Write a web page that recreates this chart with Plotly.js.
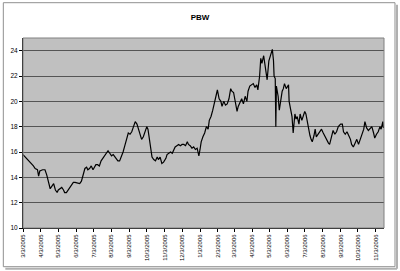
<!DOCTYPE html>
<html>
<head>
<meta charset="utf-8">
<script src="https://cdn.plot.ly/plotly-3.0.1.min.js"></script>
<style>html,body{margin:0;padding:0;background:#fff;}#chart{width:400px;height:271px;}</style>
</head>
<body>
<div id="chart"></div>
<script>
var dates = [
"2005-03-03","2005-03-07","2005-03-10","2005-03-14","2005-03-16","2005-03-21","2005-03-24","2005-03-28","2005-03-30","2005-04-01",
"2005-04-06","2005-04-10","2005-04-13","2005-04-16","2005-04-19","2005-04-22","2005-04-25","2005-04-28","2005-05-01",
"2005-05-03","2005-05-06","2005-05-09","2005-05-12","2005-05-14","2005-05-17","2005-05-20","2005-05-23","2005-05-26","2005-05-29","2005-06-01",
"2005-06-06","2005-06-09","2005-06-12","2005-06-15","2005-06-18","2005-06-21","2005-06-23","2005-06-26","2005-06-29","2005-07-02",
"2005-07-05","2005-07-07","2005-07-10","2005-07-13","2005-07-16","2005-07-19","2005-07-22","2005-07-25","2005-07-28","2005-07-31",
"2005-08-03","2005-08-06","2005-08-09","2005-08-12","2005-08-14","2005-08-17","2005-08-20","2005-08-23","2005-08-26","2005-08-29","2005-09-01",
"2005-09-04","2005-09-07","2005-09-10","2005-09-13","2005-09-16","2005-09-19","2005-09-21","2005-09-24","2005-09-27","2005-09-30",
"2005-10-03","2005-10-05","2005-10-08","2005-10-10","2005-10-12","2005-10-15","2005-10-18","2005-10-21","2005-10-23","2005-10-26","2005-10-29","2005-11-01",
"2005-11-05","2005-11-07","2005-11-10","2005-11-13","2005-11-16","2005-11-19","2005-11-21","2005-11-24","2005-11-27","2005-11-30",
"2005-12-03","2005-12-06","2005-12-09","2005-12-12","2005-12-14","2005-12-17","2005-12-20","2005-12-23","2005-12-26","2005-12-29","2006-01-01",
"2006-01-03","2006-01-05","2006-01-08","2006-01-11","2006-01-14","2006-01-17","2006-01-19","2006-01-22","2006-01-25","2006-01-28","2006-01-31","2006-02-02",
"2006-02-05","2006-02-08","2006-02-10","2006-02-13","2006-02-16","2006-02-19","2006-02-22","2006-02-25","2006-02-27","2006-03-02",
"2006-03-03","2006-03-06","2006-03-08","2006-03-10","2006-03-13","2006-03-16","2006-03-19","2006-03-22","2006-03-25","2006-03-27","2006-03-30",
"2006-04-03","2006-04-05","2006-04-08","2006-04-11","2006-04-13","2006-04-16","2006-04-18","2006-04-20","2006-04-23","2006-04-25","2006-04-27","2006-04-29","2006-05-02",
"2006-05-04","2006-05-06","2006-05-08","2006-05-10","2006-05-11","2006-05-13","2006-05-14","2006-05-15","2006-05-18","2006-05-20","2006-05-22","2006-05-25","2006-05-27","2006-05-29","2006-06-01",
"2006-06-05","2006-06-06","2006-06-09","2006-06-11","2006-06-13","2006-06-16","2006-06-18","2006-06-20","2006-06-23","2006-06-25","2006-06-28","2006-07-01",
"2006-07-03","2006-07-05","2006-07-07","2006-07-09","2006-07-12","2006-07-14","2006-07-16","2006-07-19","2006-07-21","2006-07-23","2006-07-26","2006-07-29","2006-08-01",
"2006-08-04","2006-08-07","2006-08-10","2006-08-13","2006-08-15","2006-08-18","2006-08-21","2006-08-24","2006-08-27","2006-08-30","2006-09-03",
"2006-09-06","2006-09-08","2006-09-11","2006-09-14","2006-09-17","2006-09-20","2006-09-22","2006-09-25","2006-09-28","2006-10-01",
"2006-10-04","2006-10-07","2006-10-10","2006-10-13","2006-10-15","2006-10-18","2006-10-21","2006-10-24","2006-10-27","2006-10-30","2006-11-01",
"2006-11-04","2006-11-07","2006-11-10","2006-11-12","2006-11-15","2006-11-16"
];
var prices = [
15.8,15.6,15.5,15.3,15.2,14.9,14.7,14.6,14.1,14.5,
14.6,14.6,14.2,13.6,13.1,13.3,13.5,13.0,12.8,
13.0,13.1,13.2,13.0,12.8,12.8,13.0,13.1,13.4,13.6,13.6,
13.5,13.5,13.7,14.3,14.7,14.8,14.6,14.7,14.9,14.6,
14.8,15.0,15.0,14.9,15.3,15.5,15.8,16.0,16.1,15.9,
15.7,15.8,15.6,15.5,15.3,15.3,15.6,16.0,16.5,17.0,17.5,
17.4,17.6,18.0,18.4,18.2,17.8,17.5,17.0,17.2,17.6,
18.0,17.8,17.0,16.2,15.6,15.4,15.3,15.6,15.4,15.6,15.1,15.2,
15.5,15.8,15.9,16.0,15.9,16.2,16.4,16.5,16.6,16.5,
16.6,16.6,16.5,16.8,16.6,16.5,16.3,16.4,16.2,16.3,15.7,
16.2,16.8,17.2,17.5,18.0,17.8,18.5,18.8,19.3,19.8,20.5,20.9,
20.2,20.0,19.6,20.0,19.7,19.8,20.2,21.0,20.8,20.7,
20.4,19.5,19.2,19.6,19.9,20.2,19.8,20.4,20.0,20.8,21.2,
21.3,21.4,21.1,21.3,20.9,22.0,23.4,23.0,23.6,22.8,22.4,21.7,23.2,
23.5,23.8,24.1,23.2,22.0,21.8,18.0,21.2,20.4,19.3,20.0,20.8,21.0,21.4,21.0,
21.3,20.0,19.2,18.8,17.5,19.0,18.6,18.8,18.2,19.0,18.5,19.0,
19.2,19.0,18.5,17.8,17.3,17.0,16.8,17.3,17.8,17.2,17.4,17.6,17.8,
17.5,17.2,16.9,16.7,16.6,17.3,17.7,17.4,17.6,18.0,18.2,
18.2,17.6,17.4,17.6,17.3,17.0,16.6,16.4,16.7,17.0,
16.6,17.0,17.3,17.8,18.4,17.9,17.7,17.9,18.0,17.5,17.1,
17.4,17.6,18.0,17.8,18.4,17.9
];
var tickDates = ["2005-03-03","2005-04-03","2005-05-03","2005-06-03","2005-07-03","2005-08-03","2005-09-03","2005-10-03","2005-11-03","2005-12-03","2006-01-03","2006-02-03","2006-03-03","2006-04-03","2006-05-03","2006-06-03","2006-07-03","2006-08-03","2006-09-03","2006-10-03","2006-11-03"];
var tickLabels = ["3/3/2005","4/3/2005","5/3/2005","6/3/2005","7/3/2005","8/3/2005","9/3/2005","10/3/2005","11/3/2005","12/3/2005","1/3/2006","2/3/2006","3/3/2006","4/3/2006","5/3/2006","6/3/2006","7/3/2006","8/3/2006","9/3/2006","10/3/2006","11/3/2006"];
var yTicks = [10,12,14,16,18,20,22,24];

var trace = {x: dates, y: prices, type: 'scatter', mode: 'lines', line: {color: '#000000', width: 1.2}, hoverinfo: 'skip'};

var L = 22.7, R = 384, T = 38.3, B = 228.3;
function px(x){return (x - L)/(R - L);}
function py(y){return (B - y)/(B - T);}

var layout = {
  width: 400, height: 271,
  margin: {l: 23, r: 16, t: 38, b: 43, pad: 0},
  paper_bgcolor: '#ffffff',
  plot_bgcolor: '#c0c0c0',
  showlegend: false,
  title: {text: '<b>PBW</b>', font: {family: 'Arial, Liberation Sans, sans-serif', size: 8, color: '#000'}, x: 0.5, xanchor: 'center', y: 0.935, yanchor: 'middle'},
  xaxis: {
    type: 'date', range: ['2005-03-03', '2006-11-17'],
    tickmode: 'array', tickvals: tickDates, ticktext: tickLabels,
    tickangle: -90, ticks: 'outside', ticklen: 3, tickcolor: '#000', tickwidth: 1,
    tickfont: {family: 'Arial, Liberation Sans, sans-serif', size: 6, color: '#000'},
    showgrid: false, showline: true, linecolor: '#000', linewidth: 1, zeroline: false
  },
  yaxis: {
    range: [10, 25], tickmode: 'array', tickvals: yTicks,
    ticks: 'outside', ticklen: 3, tickcolor: '#000', tickwidth: 1,
    tickfont: {family: 'Arial, Liberation Sans, sans-serif', size: 6.5, color: '#000'},
    showgrid: true, gridcolor: '#555555', gridwidth: 1,
    showline: true, linecolor: '#000', linewidth: 1, zeroline: false
  },
  shapes: [
    {type: 'rect', xref: 'paper', yref: 'paper', x0: 0, x1: 1, y0: 0, y1: 1, line: {color: '#808080', width: 1}, fillcolor: 'rgba(0,0,0,0)', layer: 'above'},
    {type: 'rect', xref: 'paper', yref: 'paper', x0: px(3), x1: px(395), y0: py(3), y1: py(267), line: {color: '#909090', width: 1}, fillcolor: 'rgba(0,0,0,0)', layer: 'below'},
    {type: 'line', xref: 'paper', yref: 'paper', x0: px(397), x1: px(397), y0: py(5), y1: py(269), line: {color: '#b0b0b0', width: 2}},
    {type: 'line', xref: 'paper', yref: 'paper', x0: px(5), x1: px(397), y0: py(269), y1: py(269), line: {color: '#b0b0b0', width: 2}}
  ]
};

Plotly.newPlot('chart', [trace], layout, {displayModeBar: false, staticPlot: true});
</script>
</body>
</html>
